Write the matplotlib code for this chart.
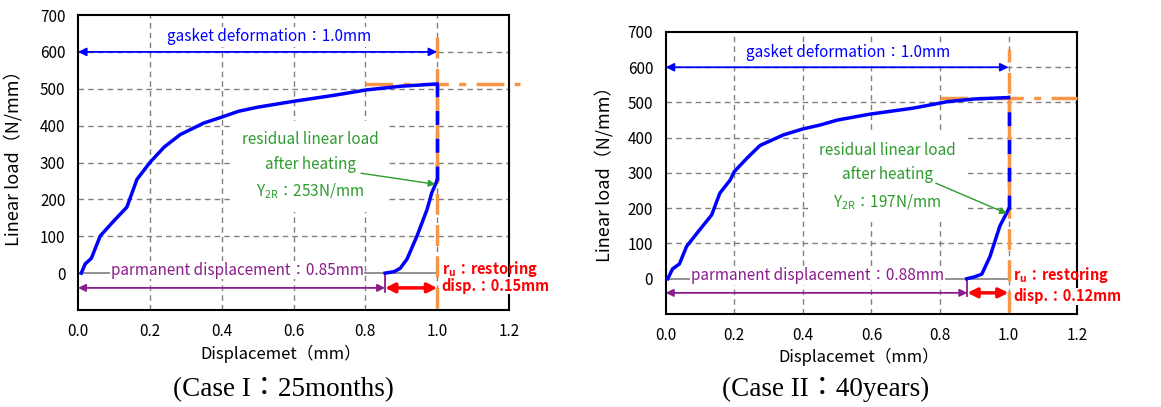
import matplotlib.pyplot as plt

plt.rcParams['font.family'] = ['Noto Sans CJK JP', 'DejaVu Sans']

# --- data ---
left_load_x = [0.009, 0.02, 0.037, 0.062, 0.10, 0.136, 0.164, 0.20, 0.24, 0.285, 0.35, 0.40, 0.447, 0.50, 0.60, 0.711, 0.804, 0.90, 1.0]
left_load_y = [0, 25, 40, 101, 142, 179, 254, 300, 342, 376, 407, 423, 439, 450, 466, 482, 497, 507, 513]
left_unload_x = [0.855, 0.88, 0.897, 0.916, 0.944, 0.972, 0.985, 0.995, 1.0]
left_unload_y = [0, 4, 13, 38, 101, 173, 218, 240, 253]

right_load_x = [0.006, 0.02, 0.04, 0.061, 0.10, 0.134, 0.158, 0.188, 0.20, 0.24, 0.275, 0.343, 0.40, 0.45, 0.50, 0.596, 0.722, 0.82, 0.90, 1.0]
right_load_y = [0, 28, 42, 92, 140, 181, 243, 280, 304, 345, 378, 408, 425, 436, 450, 467, 484, 502, 510, 514]
right_unload_x = [0.878, 0.90, 0.922, 0.946, 0.975, 0.99, 1.0]
right_unload_y = [0, 5, 13, 63, 150, 178, 197]

gasket_def = 1.0
perm_disp = [0.855, 0.88]
perm_label = ['0.85', '0.88']
restore_label = ['0.15', '0.12']
residual = [253, 197]
max_load = [513, 514]
captions = ['(Case I：25months)', '(Case II：40years)']

BLUE = '#0000FF'
ORANGE = '#F79646'
GREEN = '#2E9B2E'
PURPLE = '#8B1C8B'
RED = '#FF0000'

fig = plt.figure(figsize=(11.61, 4.07), dpi=100)
ax_l = fig.add_axes([0.0672, 0.2383, 0.3712, 0.7248])
ax_r = fig.add_axes([0.5734, 0.2285, 0.3543, 0.6929])


def draw_panel(ax, lx, ly, ux, uy, i, red_y):
    ax.set_xlim(0, 1.2)
    ax.set_ylim(-100, 700)
    ax.set_xticks([0, 0.2, 0.4, 0.6, 0.8, 1.0, 1.2])
    ax.set_xticklabels(['0.0', '0.2', '0.4', '0.6', '0.8', '1.0', '1.2'])
    ax.set_yticks(range(0, 701, 100))
    ax.tick_params(length=0, labelsize=11, pad=9)
    for s in ax.spines.values():
        s.set_linewidth(1.5)

    for yv in range(100, 601, 100):
        ax.axhline(yv, color='#808080', lw=1, ls=(0, (4, 3)), zorder=0)
    for xv in [0.2, 0.4, 0.6, 0.8, 1.0]:
        ax.axvline(xv, color='#808080', lw=1, ls=(0, (4, 3)), zorder=0)
    ax.plot([0, gasket_def], [0, 0], color='#808080', lw=1.2, zorder=1)

    # orange reference lines
    ax.plot([gasket_def, gasket_def], [-95, 652], color=ORANGE, lw=2.5,
            ls=(0, (6, 3)), zorder=3)
    ax.plot([gasket_def, gasket_def], [residual[i], max_load[i]], color=ORANGE,
            lw=2.5, zorder=3)
    ax.plot([0.8, 1.23 if i == 0 else 1.2], [max_load[i], max_load[i]],
            color=ORANGE, lw=2.5, ls=(0, (8, 3, 2, 3)), zorder=3, clip_on=False)

    # curves
    ax.plot(lx, ly, color=BLUE, lw=2.5, zorder=4)
    ax.plot(ux, uy, color=BLUE, lw=2.5, zorder=4)
    ax.plot([gasket_def, gasket_def], [residual[i], max_load[i]], color=BLUE,
            lw=2.5, ls=(0, (4, 4)), zorder=5)

    # gasket deformation
    ax.annotate('', xy=(gasket_def, 600), xytext=(0, 600),
                arrowprops=dict(arrowstyle='<|-|>', color=BLUE, lw=1.3,
                                mutation_scale=12, shrinkA=0, shrinkB=0))
    ax.text(0.533, 641, 'gasket deformation：1.0mm', color=BLUE, fontsize=11,
            ha='center', va='center',
            bbox=dict(fc='white', ec='none', pad=1))

    # residual load
    ax.text(0.647, 290, 'residual linear load\nafter heating\nY$_{\\mathregular{2R}}$：%dN/mm' % residual[i],
            color=GREEN, fontsize=11, ha='center', va='center', linespacing=1.6,
            bbox=dict(fc='white', ec='none', boxstyle='square,pad=0.7'), zorder=2)
    ax.annotate('', xy=(0.995, residual[i] - 12), xytext=(0.788, 271),
                arrowprops=dict(arrowstyle='-|>', color=GREEN, lw=1,
                                mutation_scale=10, shrinkA=0, shrinkB=0),
                zorder=6)

    # permanent displacement
    pd = perm_disp[i]
    ax.text(0.443, 8, 'parmanent displacement：%smm' % perm_label[i],
            color=PURPLE, fontsize=11, ha='center', va='center',
            bbox=dict(fc='white', ec='none', pad=0.5), zorder=2)
    ax.annotate('', xy=(pd, -40), xytext=(0, -40),
                arrowprops=dict(arrowstyle='<|-|>', color=PURPLE, lw=1.3,
                                mutation_scale=11, shrinkA=0, shrinkB=0))
    ax.plot([pd, pd], [0, -50], color=PURPLE, lw=1.3)

    # restoring displacement
    ax.annotate('', xy=(gasket_def, -40), xytext=(pd, -40),
                arrowprops=dict(arrowstyle='<|-|>', color=RED, lw=2.5,
                                mutation_scale=14, shrinkA=0, shrinkB=0),
                zorder=6)
    ax.text(1.013, 10, 'r$_{\\mathregular{u}}$：restoring', color=RED,
            fontsize=10.5, fontweight='bold', ha='left', va='center',
            clip_on=False, zorder=7)
    ax.text(1.013, red_y, 'disp.：%smm' % restore_label[i], color=RED,
            fontsize=10.5, fontweight='bold', ha='left', va='center',
            clip_on=False, zorder=7,
            bbox=dict(fc='white', ec='none', pad=0.5))

    ax.set_xlabel('Displacemet（mm）', fontsize=12)
    ax.set_ylabel('Linear load（N/mm）', fontsize=13)
    ax.xaxis.set_label_coords(0.47, -0.118)
    ax.yaxis.set_label_coords(-0.128, 0.53 if i == 0 else 0.51)


draw_panel(ax_l, left_load_x, left_load_y, left_unload_x, left_unload_y, 0, -34)
draw_panel(ax_r, right_load_x, right_load_y, right_unload_x, right_unload_y, 1, -50)

fig.text(0.2438, 0.042, captions[0], fontsize=19.5, ha='center', va='center',
         family=['Liberation Serif', 'Noto Sans CJK JP'])
fig.text(0.711, 0.042, captions[1], fontsize=19.5, ha='center', va='center',
         family=['Liberation Serif', 'Noto Sans CJK JP'])

fig.savefig('out.png', dpi=100)
